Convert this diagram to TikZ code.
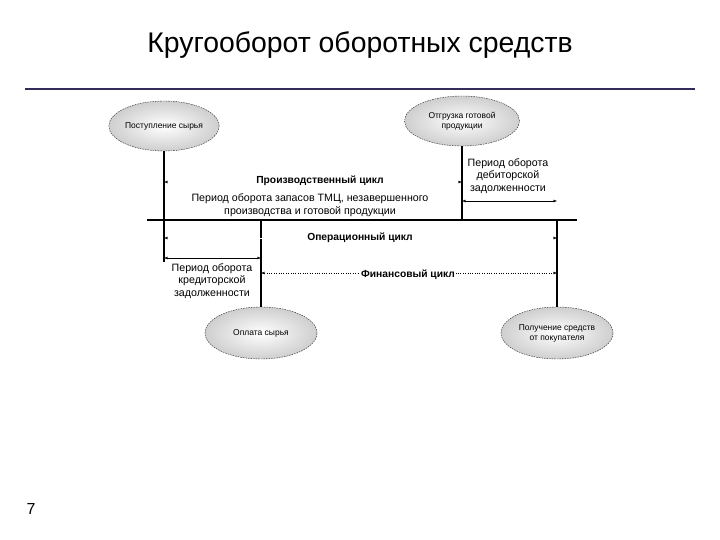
\documentclass[tikz,border=0pt]{standalone}
\usepackage{fontspec}
\setmainfont{Liberation Sans}
\usetikzlibrary{arrows.meta, positioning, shapes.geometric}
\definecolor{titleline}{RGB}{51, 45, 92}
\definecolor{ovalrim}{RGB}{40, 40, 40}
\tikzset{
  oval/.style={ellipse, draw=ovalrim, dash pattern=on 1.6pt off 1pt, thin,
               shading=radial, inner color=white, outer color=gray!38,
               minimum width=#1, minimum height=50bp, align=center,
               font=\fontsize{8.5}{10}\selectfont, inner sep=0pt},
  oval/.default=112bp,
  axis/.style={line width=1.6pt, color=black},
  stem/.style={line width=1.3pt, color=black},
  span/.style={{Latex[length=3.5pt,width=3pt,color=black]}-{Latex[length=3.5pt,width=3pt,color=black]}, thin},
  ghost/.style={span, draw=white},
  cyclab/.style={font=\fontsize{10.3}{12}\selectfont\bfseries, fill=white, inner sep=1pt},
  perlab/.style={font=\fontsize{10.7}{12.8}\selectfont, align=center, inner sep=0pt},
}
\begin{document}
\begin{tikzpicture}[x=1bp, y=-1bp]
  \useasboundingbox (0,0) rectangle (720,540);

  % title
  \node[font=\fontsize{28.5}{32}\selectfont] (title) at (360,45) {Кругооборот оборотных средств};
  \coordinate (tlL) at (25,89);
  \coordinate (tlR) at (695,89);
  \draw[titleline, line width=1.8pt] (tlL) -- (tlR);

  % events
  \node[oval=110bp] (raw)  at (164,126) {Поступление сырья};
  \node[oval=115bp] (ship) at (462,121) {Отгрузка готовой\\продукции};
  \node[oval=112bp, minimum height=52bp] (pay)  at (261,333) {Оплата сырья};
  \node[oval=112bp, minimum height=52bp] (recv) at (557,333) {Получение средств\\от покупателя};

  % time axis
  \coordinate (axL) at (147,220);
  \coordinate (axR) at (577,220);
  \draw[axis] (axL) -- (axR);

  % stems
  \coordinate (rawEnd) at (164,262);
  \coordinate (shipEnd) at (462,220);
  \coordinate (payTop) at (261,220);
  \coordinate (recvTop) at (557,220);
  \draw[stem] (raw.south) -- (rawEnd);
  \draw[stem] (ship.south) -- (shipEnd);
  \draw[stem] (payTop) -- (pay.north);
  \draw[stem] (recvTop) -- (recv.north);

  % spans
  \coordinate (prodA) at (164,182);
  \coordinate (prodB) at (462,182);
  \coordinate (debtA) at (462,201);
  \coordinate (debtB) at (557,201);
  \coordinate (operA) at (164,238);
  \coordinate (operB) at (557,238);
  \coordinate (credA) at (164,258);
  \coordinate (credB) at (261,258);
  \coordinate (finA) at (261,273);
  \coordinate (finB) at (557,273);
  \draw[ghost] (prodA) -- (prodB);
  \draw[span] (debtA) -- (debtB);
  \draw[ghost] (operA) -- (operB);
  \draw[span] (credA) -- (credB);
  \draw[span, dotted] (finA) -- (finB);

  % labels
  \node[cyclab] (prod) at (320,181) {Производственный цикл};
  \node[perlab] (stock) at (310,205) {Период оборота запасов ТМЦ, незавершенного\\производства и готовой продукции};
  \node[perlab] (debt) at (508,176) {Период оборота\\дебиторской\\задолженности};
  \node[cyclab] (oper) at (360,238) {Операционный цикл};
  \node[perlab] (cred) at (212,281) {Период оборота\\кредиторской\\задолженности};
  \node[cyclab] (fin) at (408,275) {Финансовый цикл};

  % page number
  \node[font=\fontsize{16}{18}\selectfont] (page) at (31,509) {7};
\end{tikzpicture}
\end{document}
